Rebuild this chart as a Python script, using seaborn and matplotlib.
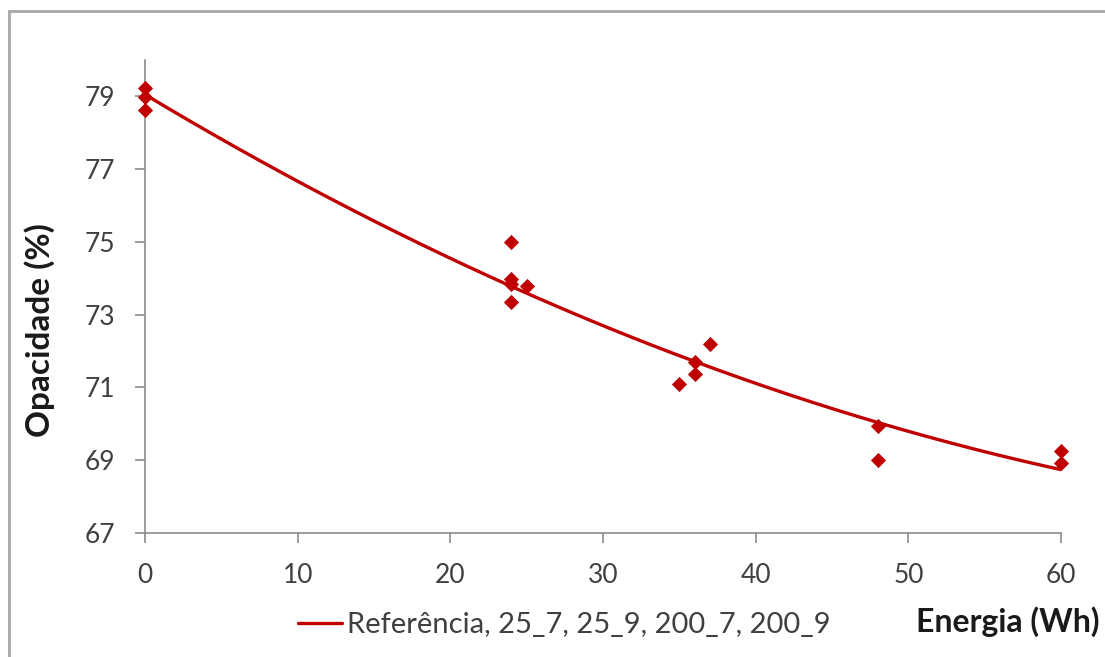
import numpy as np
import pandas as pd
import matplotlib
matplotlib.use("Agg")
import matplotlib.pyplot as plt
from matplotlib.patches import Rectangle
import seaborn as sns

# Measured opacity vs. energy
energia = [0, 0, 0, 24, 24, 24, 24, 25, 35, 36, 36, 37, 48, 48, 60, 60]
opacidade = [79.22, 78.97, 78.62, 75.0, 73.98, 73.85, 73.35, 73.77,
             71.08, 71.7, 71.37, 72.19, 69.94, 69.0, 69.24, 68.91]

x_ticks = [0, 10, 20, 30, 40, 50, 60]
y_ticks = [67, 69, 71, 73, 75, 77, 79]
legend_label = "Referência, 25_7, 25_9, 200_7, 200_9"

sns.set_theme(style="white")
plt.rcParams["font.family"] = ["Lato", "DejaVu Sans"]

red = "#C00000"
axis_gray = "#8C8C8C"

df = pd.DataFrame({"Energia": energia, "Opacidade": opacidade})

# Second-order polynomial trendline fitted to the measurements
coef = np.polyfit(df["Energia"], df["Opacidade"], 2)
xs = np.linspace(0, 60, 200)
trend = pd.DataFrame({"Energia": xs, "Opacidade": np.polyval(coef, xs)})

fig = plt.figure(figsize=(11.05, 6.57), dpi=100)
ax = fig.add_axes([145 / 1105, 1 - 533 / 657, (1061 - 145) / 1105, (533 - 59.6) / 657])

sns.lineplot(data=trend, x="Energia", y="Opacidade", ax=ax, color=red,
             linewidth=2.4, label=legend_label)
sns.scatterplot(data=df, x="Energia", y="Opacidade", ax=ax, color=red,
                marker="D", s=60, edgecolor=red, linewidth=0, zorder=3,
                clip_on=False)

ax.set_xlim(0, 60)
ax.set_ylim(67, 80)
ax.set_xticks(x_ticks)
ax.set_yticks(y_ticks)
ax.tick_params(axis="both", bottom=True, left=True, labelsize=19,
               colors="#404040", length=7.5, width=1.2, direction="out",
               color=axis_gray)
ax.tick_params(axis="x", pad=14)
ax.tick_params(axis="y", pad=14)
for side in ("top", "right"):
    ax.spines[side].set_visible(False)
for side in ("left", "bottom"):
    ax.spines[side].set_color(axis_gray)
    ax.spines[side].set_linewidth(1.2)

ax.set_xlabel("")
ax.set_ylabel("")

fig.text(40 / 1105, 1 - 330 / 657, "Opacidade (%)", rotation=90, ha="center",
         va="center", fontsize=24, fontweight="bold", color="#1a1a1a")
fig.text(1100 / 1105, 1 - 622 / 657, "Energia (Wh)", ha="right", va="center",
         fontsize=23, fontweight="bold", color="#1a1a1a")

ax.get_legend().remove()
fig.legend(loc="center left", bbox_to_anchor=(272 / 1105, 1 - 625 / 657),
           frameon=False, fontsize=21, handlelength=1.5, handletextpad=0.17,
           labelcolor="#404040")

# Outer chart frame
fig.patches.append(Rectangle((9 / 1105, -0.05), 1.1, 1 - 11 / 657 + 0.05,
                             transform=fig.transFigure, fill=False,
                             edgecolor="#A8A8A8", linewidth=2, zorder=0))

fig.savefig("out.png", dpi=100)
